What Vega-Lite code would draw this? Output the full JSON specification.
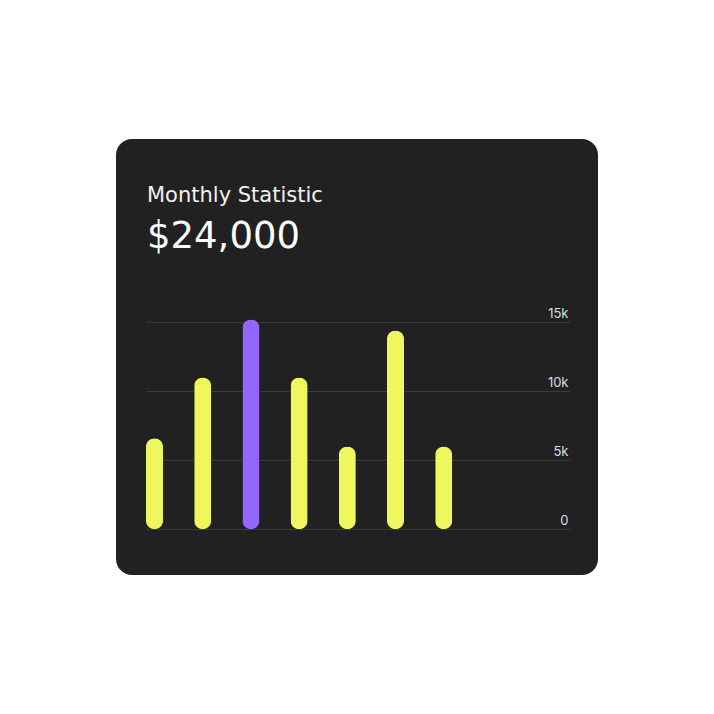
{
  "$schema": "https://vega.github.io/schema/vega-lite/v6.json",
  "autosize": {"type": "none"},
  "padding": {"left": 116, "top": 139, "right": 116, "bottom": 139},
  "width": 482,
  "height": 436,
  "background": "#ffffff",
  "title": {
    "text": "Monthly Statistic",
    "subtitle": "$24,000",
    "anchor": "start",
    "frame": "group",
    "orient": "top",
    "offset": 0,
    "dx": 31,
    "dy": 116,
    "font": "DejaVu Sans",
    "fontSize": 21,
    "fontWeight": 400,
    "color": "#f2f2f2",
    "subtitleFont": "DejaVu Sans",
    "subtitleFontSize": 37,
    "subtitleFontWeight": 400,
    "subtitleColor": "#ffffff",
    "subtitlePadding": 13
  },
  "data": {
    "values": [
      {"month": "Jan", "value": 6600, "highlight": "no"},
      {"month": "Feb", "value": 11000, "highlight": "no"},
      {"month": "Mar", "value": 15200, "highlight": "yes"},
      {"month": "Apr", "value": 11000, "highlight": "no"},
      {"month": "May", "value": 6000, "highlight": "no"},
      {"month": "Jun", "value": 14400, "highlight": "no"},
      {"month": "Jul", "value": 6000, "highlight": "no"}
    ]
  },
  "mark": {"type": "bar", "cornerRadius": 8.5},
  "encoding": {
    "x": {
      "field": "month",
      "type": "ordinal",
      "sort": null,
      "axis": null,
      "scale": {
        "domain": ["Jan", "Feb", "Mar", "Apr", "May", "Jun", "Jul", "Aug", "Sep"],
        "range": [30, 454],
        "paddingInner": 0.647,
        "paddingOuter": 0.222,
        "align": 0
      }
    },
    "y": {
      "field": "value",
      "type": "quantitative",
      "scale": {"domain": [0, 15000], "range": [390.3, 183.3], "nice": false},
      "axis": {
        "orient": "left",
        "offset": -454,
        "values": [0, 5000, 10000, 15000],
        "labelExpr": "datum.value == 0 ? '0' : (datum.value / 1000) + 'k'",
        "domain": false,
        "ticks": false,
        "grid": true,
        "gridColor": "#3a3a3a",
        "gridWidth": 1,
        "labelAlign": "right",
        "labelBaseline": "bottom",
        "labelOffset": -1.5,
        "labelPadding": 2,
        "labelFont": "Inter",
        "labelFontSize": 13,
        "labelColor": "#dedede",
        "title": null
      }
    },
    "color": {
      "field": "highlight",
      "type": "nominal",
      "scale": {"domain": ["no", "yes"], "range": ["#eef75e", "#9466ff"]},
      "legend": null
    }
  },
  "config": {
    "view": {"fill": "#212121", "stroke": null, "cornerRadius": 16}
  }
}
